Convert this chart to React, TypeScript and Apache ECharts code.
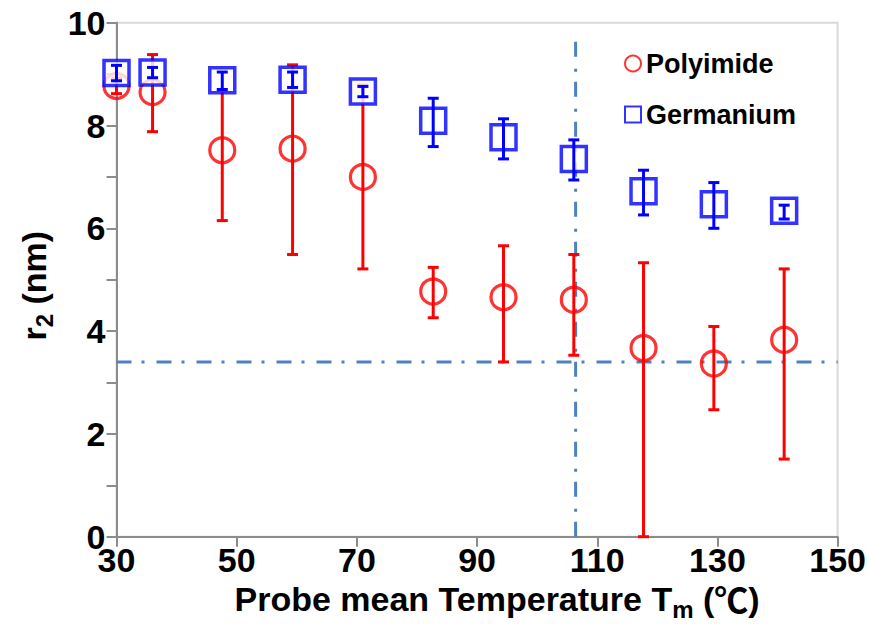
import React, { useEffect, useRef } from 'react';
import * as echarts from 'echarts';

// Probe mean temperature (°C)
const temps = [30, 36, 47.6, 59.3, 71, 82.7, 94.4, 106.1, 117.7, 129.4, 141.1];

// Polyimide r2 (nm) with error-bar limits
const polyimide = [8.77, 8.65, 7.52, 7.55, 7.0, 4.77, 4.66, 4.61, 3.67, 3.37, 3.83];
const polyLow = [8.62, 7.88, 6.15, 5.49, 5.21, 4.26, 3.4, 3.53, 0.0, 2.47, 1.51];
const polyHigh = [8.92, 9.38, 8.7, 9.18, 8.79, 5.24, 5.66, 5.49, 5.33, 4.09, 5.21];

// Germanium r2 (nm) with error-bar limits
const germanium = [9.02, 9.03, 8.88, 8.89, 8.66, 8.09, 7.77, 7.35, 6.72, 6.47, 6.34];
const geLow = [8.87, 8.93, 8.7, 8.74, 8.56, 7.59, 7.35, 6.94, 6.26, 6.0, 6.18];
const geHigh = [9.17, 9.13, 9.04, 9.04, 8.76, 8.53, 8.13, 7.72, 7.13, 6.89, 6.45];

// Axis ranges / ticks
const xTicks = [30, 50, 70, 90, 110, 130, 150];
const yTicks = [0, 2, 4, 6, 8, 10];

// Reference lines
const hRefY = 3.4;
const vRefX = 106.4;
const vRefTop = 9.8;

export default function App() {
  const ref = useRef<HTMLDivElement>(null);
  useEffect(() => {
    const chart = echarts.init(ref.current as HTMLDivElement, null, { renderer: 'svg' });
    const font = "'Liberation Sans', Arial, Helvetica, sans-serif";
    const cjk = "'Noto Sans CJK SC', 'DejaVu Sans', sans-serif";
    const axisGray = '#8c8c8c';
    const refColor = '#4f81bd';

    const errBar = (color: string, low: number[], high: number[], z: number) => ({
      type: 'custom',
      z,
      silent: true,
      data: temps.map((t, i) => [t, low[i], high[i]]),
      encode: { x: 0, y: [1, 2] },
      renderItem: (params: any, api: any) => {
        const x = api.value(0);
        const lo = api.coord([x, api.value(1)]);
        const hi = api.coord([x, api.value(2)]);
        const w = 5.5;
        const st = { stroke: color, lineWidth: 3, fill: 'none' };
        return {
          type: 'group',
          children: [
            { type: 'line', shape: { x1: lo[0], y1: lo[1], x2: hi[0], y2: hi[1] }, style: st },
            { type: 'line', shape: { x1: lo[0] - w, y1: lo[1], x2: lo[0] + w, y2: lo[1] }, style: st },
            { type: 'line', shape: { x1: hi[0] - w, y1: hi[1], x2: hi[0] + w, y2: hi[1] }, style: st },
          ],
        };
      },
    });

    const refLine = (data: number[][]) => ({
      type: 'line',
      z: 1,
      silent: true,
      symbol: 'none',
      clip: false,
      data,
      lineStyle: { color: refColor, width: 3, type: [15, 10, 3, 12] },
    });

    const richName = {
      a: { fontFamily: font, fontSize: 34, fontWeight: 'bold', color: '#000', lineHeight: 46, verticalAlign: 'middle' },
      s: { fontFamily: font, fontSize: 24, fontWeight: 'bold', color: '#000', lineHeight: 24, verticalAlign: 'bottom' },
      c: { fontFamily: cjk, fontSize: 34, fontWeight: 'bold', color: '#000', lineHeight: 46, verticalAlign: 'middle' },
    };

    const option: any = {
      animation: false,
      backgroundColor: '#ffffff',
      textStyle: { fontFamily: font },
      grid: {
        left: 116.5,
        right: 30.5,
        top: 22.7,
        bottom: 104.3,
        show: true,
        borderColor: '#d9d9d9',
        borderWidth: 2,
      },
      legend: {
        data: ['Polyimide', 'Germanium'],
        orient: 'vertical',
        left: 619,
        top: 45,
        itemWidth: 16,
        itemHeight: 16,
        itemGap: 24,
        textStyle: { fontFamily: font, fontSize: 27, fontWeight: 'bold', color: '#000' },
      },
      xAxis: {
        type: 'value',
        min: xTicks[0],
        max: xTicks[xTicks.length - 1],
        interval: xTicks[1] - xTicks[0],
        splitLine: { show: false },
        axisLine: { show: true, lineStyle: { color: axisGray, width: 2 } },
        axisTick: { show: true, length: 10, lineStyle: { color: axisGray, width: 2 } },
        axisLabel: { fontFamily: font, fontSize: 34, fontWeight: 'bold', color: '#000', margin: 6 },
        name: '{a|Probe mean Temperature T}{s|m}{a| (}{c|℃}{a|)}',
        nameLocation: 'middle',
        nameGap: 34,
        nameTextStyle: { rich: richName, padding: [0, 0, 0, 40] },
      },
      yAxis: {
        type: 'value',
        min: yTicks[0],
        max: yTicks[yTicks.length - 1],
        interval: yTicks[1] - yTicks[0],
        splitLine: { show: false },
        axisLine: { show: true, lineStyle: { color: axisGray, width: 2 } },
        axisTick: { show: true, length: 10, lineStyle: { color: axisGray, width: 2 } },
        minorTick: { show: true, splitNumber: 2, length: 10, lineStyle: { color: axisGray, width: 2 } },
        axisLabel: { fontFamily: font, fontSize: 34, fontWeight: 'bold', color: '#000', margin: 11 },
        name: '{a|r}{s|2}{a| (nm)}',
        nameLocation: 'middle',
        nameGap: 60,
        nameTextStyle: { rich: richName, padding: [0, 12, 0, 0] },
      },
      series: [
        refLine([[xTicks[0], hRefY], [xTicks[xTicks.length - 1], hRefY]]),
        refLine([[vRefX, 0], [vRefX, vRefTop]]),
        errBar('#ff0000', polyLow, polyHigh, 2),
        {
          type: 'scatter',
          name: 'Polyimide',
          z: 3,
          symbol: 'circle',
          symbolSize: 25,
          data: temps.map((t, i) => [t, polyimide[i]]),
          itemStyle: { color: 'rgba(255,255,255,0)', borderColor: '#ff0000', borderWidth: 3.2 },
        },
        {
          type: 'scatter',
          name: 'Germanium',
          z: 4,
          symbol: 'rect',
          symbolSize: 25,
          data: temps.map((t, i) => [t, germanium[i]]),
          itemStyle: { color: '#ffffff', borderColor: '#0000ff', borderWidth: 3.5 },
        },
        errBar('#0000ff', geLow, geHigh, 5),
      ],
    };
    chart.setOption(option);
    return () => chart.dispose();
  }, []);
  return (
    <div
      ref={ref}
      style={{ position: 'fixed', left: 0, top: 0, width: 869, height: 641, background: '#fff' }}
    />
  );
}
